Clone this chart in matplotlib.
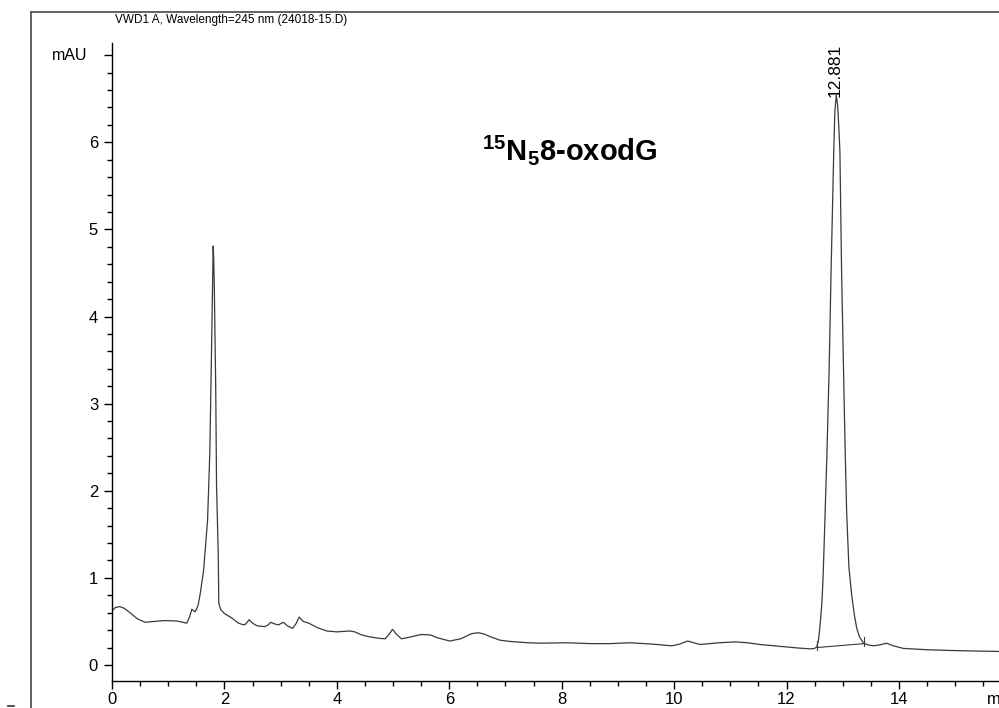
import matplotlib
matplotlib.use("Agg")
import matplotlib.pyplot as plt
import matplotlib.transforms as mtransforms
from matplotlib.lines import Line2D
from matplotlib.ticker import MultipleLocator

# Chromatogram (time in min, signal in mAU)
time_min = [0.00, 0.06, 0.14, 0.22, 0.32, 0.45, 0.59, 0.75, 0.94, 1.15, 1.33, 1.38, 1.42, 1.48,
            1.53, 1.57, 1.63, 1.70, 1.74, 1.77, 1.79, 1.80, 1.81, 1.82, 1.845, 1.86, 1.89, 1.90,
            1.93, 2.00, 2.13, 2.25, 2.34, 2.38, 2.44, 2.50, 2.58, 2.72, 2.78, 2.82, 2.90, 2.96,
            3.05, 3.12, 3.21, 3.27, 3.33, 3.40, 3.50, 3.65, 3.82, 4.00, 4.23, 4.32, 4.42, 4.53,
            4.70, 4.86, 4.94, 4.99, 5.05, 5.15, 5.30, 5.50, 5.66, 5.80, 6.01, 6.20, 6.40, 6.52,
            6.62, 6.73, 6.90, 7.08, 7.40, 7.62, 8.09, 8.51, 8.86, 9.22, 9.60, 9.96, 10.10, 10.24,
            10.35, 10.46, 10.80, 11.09, 11.30, 11.53, 11.95, 12.20, 12.42, 12.50, 12.54, 12.57,
            12.60, 12.63, 12.65, 12.67, 12.72, 12.76, 12.79, 12.82, 12.84, 12.86, 12.885, 12.91,
            12.93, 12.95, 12.98, 13.01, 13.04, 13.07, 13.11, 13.16, 13.21, 13.25, 13.30, 13.37,
            13.45, 13.55, 13.65, 13.78, 13.90, 14.08, 14.50, 15.00, 15.40, 15.78]
signal_mau = [0.62, 0.66, 0.67, 0.65, 0.60, 0.53, 0.49, 0.50, 0.51, 0.505, 0.48, 0.55, 0.64, 0.61,
              0.68, 0.82, 1.09, 1.66, 2.43, 3.58, 4.45, 4.81, 4.65, 4.34, 3.20, 2.05, 1.28, 0.71,
              0.64, 0.59, 0.54, 0.48, 0.46, 0.47, 0.52, 0.48, 0.45, 0.44, 0.46, 0.49, 0.47, 0.46,
              0.49, 0.45, 0.42, 0.47, 0.55, 0.50, 0.48, 0.43, 0.39, 0.38, 0.39, 0.38, 0.35, 0.33,
              0.31, 0.30, 0.36, 0.41, 0.36, 0.30, 0.32, 0.35, 0.345, 0.31, 0.275, 0.30, 0.36, 0.37,
              0.355, 0.325, 0.285, 0.27, 0.255, 0.25, 0.255, 0.245, 0.245, 0.255, 0.24, 0.22, 0.24, 0.275,
              0.255, 0.235, 0.255, 0.265, 0.255, 0.235, 0.21, 0.195, 0.185, 0.19, 0.21, 0.29,
              0.48, 0.72, 1.00, 1.40, 2.45, 3.45, 4.44, 5.30, 5.89, 6.35, 6.54, 6.42,
              6.18, 5.89, 4.50, 3.55, 2.55, 1.75, 1.12, 0.80, 0.56, 0.42, 0.32, 0.25,
              0.23, 0.22, 0.23, 0.25, 0.22, 0.19, 0.175, 0.165, 0.16, 0.155]

# integration baseline under the main peak
base_t = [12.54, 13.38]
base_v = [0.20, 0.245]

peak_rt = 12.881
peak_label = "12.881"
compound = r"$^{15}$N$_{5}$8-oxodG"
title = "VWD1 A, Wavelength=245 nm (24018-15.D)"
ytick_vals = [0, 1, 2, 3, 4, 5, 6, 7]
ytick_labels = ["0", "1", "2", "3", "4", "5", "6", ""]

plt.rcParams["font.family"] = ["Liberation Sans", "DejaVu Sans"]
plt.rcParams["mathtext.fontset"] = "custom"
plt.rcParams["mathtext.rm"] = "Liberation Sans:bold"
plt.rcParams["mathtext.it"] = "Liberation Sans:bold:italic"
plt.rcParams["mathtext.bf"] = "Liberation Sans:bold"

W, H = 999, 708
fig = plt.figure(figsize=(W / 100, H / 100), dpi=100)
ax = fig.add_axes([112 / W, 27 / H, 887 / W, 638 / H])

ax.plot(time_min, signal_mau, color="#3a3a3a", lw=0.9)
ax.plot(base_t, base_v, color="#3a3a3a", lw=0.8)
for t, v in zip(base_t, base_v):
    ax.plot([t, t], [v - 0.03, v + 0.08], color="#3a3a3a", lw=0.8)

ax.set_xlim(0, 15.78)
ax.set_ylim(-0.184, 7.14)

for s in ["top", "right"]:
    ax.spines[s].set_visible(False)
for s in ["left", "bottom"]:
    ax.spines[s].set_linewidth(1.0)
    ax.spines[s].set_color("black")

ax.xaxis.set_major_locator(MultipleLocator(2))
ax.xaxis.set_minor_locator(MultipleLocator(0.5))
ax.set_yticks(ytick_vals)
ax.set_yticklabels(ytick_labels)
ax.yaxis.set_minor_locator(MultipleLocator(0.2))
ax.tick_params(which="major", direction="out", length=6, width=1, labelsize=12, pad=2)
ax.tick_params(axis="y", which="major", pad=4)
ax.tick_params(which="minor", direction="out", length=3.6, width=1)

# "mAU" sits where the 7 label would be
trans = mtransforms.blended_transform_factory(ax.transAxes, ax.transData)
ax.text(-25 / 887, 7, "mAU", transform=trans, ha="right", va="center", fontsize=11.5)
# axis unit at the right end, clipped by the page edge like the printout
ax.text(15.57, -0.31, "min", ha="left", va="top", fontsize=12, clip_on=False)

ax.text(peak_rt - 0.01, 6.52, peak_label, rotation=90, ha="center", va="bottom", fontsize=12.5)
ax.text(6.58, 5.80, compound, fontsize=21, fontweight="bold", family="Liberation Sans")

# printout frame and signal header
fig.add_artist(Line2D([31 / W, 31 / W], [0, 1 - 12 / H], color="#555555", lw=1.3))
fig.add_artist(Line2D([31 / W, 1], [1 - 12 / H, 1 - 12 / H], color="#555555", lw=1.3))
fig.add_artist(Line2D([8 / W, 14 / W], [2 / H, 2 / H], color="#333333", lw=1.2))
fig.text(115 / W, 1 - 20 / H, title, ha="left", va="center", fontsize=8.5)

fig.savefig("out.png", dpi=100)
